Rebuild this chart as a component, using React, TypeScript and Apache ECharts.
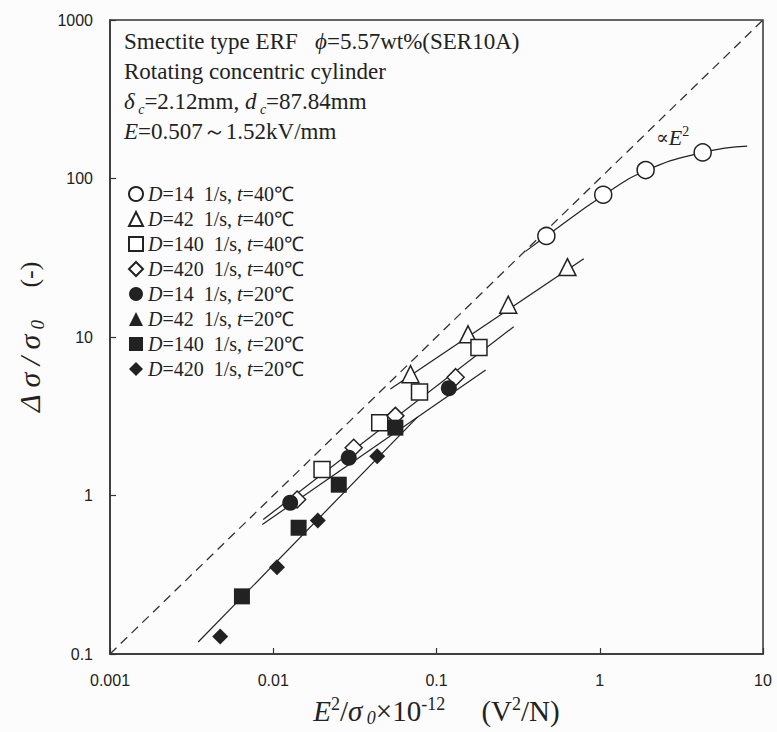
import React, { useEffect, useRef } from "react";
import * as echarts from "echarts";

// ---- Data ----
const xTickLabels = ["0.001", "0.01", "0.1", "1", "10"];
const yTickLabels = ["0.1", "1", "10", "100", "1000"];

const seriesNames = [
  "D=14 1/s, t=40℃",
  "D=42 1/s, t=40℃",
  "D=140 1/s, t=40℃",
  "D=420 1/s, t=40℃",
  "D=14 1/s, t=20℃",
  "D=42 1/s, t=20℃",
  "D=140 1/s, t=20℃",
  "D=420 1/s, t=20℃",
];
const shearRates = ["14", "42", "140", "420", "14", "42", "140", "420"];
const temps = ["40", "40", "40", "40", "20", "20", "20", "20"];

// D=14, 40C (open circle)
const c40X = [0.471, 1.05, 1.91, 4.27];
const c40Y = [43.4, 79, 113, 146];
// D=42, 40C (open triangle)
const t40X = [0.0693, 0.156, 0.275, 0.634];
const t40Y = [5.83, 10.4, 16.0, 27.6];
// D=140, 40C (open square)
const s40X = [0.0199, 0.0449, 0.0787, 0.182];
const s40Y = [1.46, 2.88, 4.49, 8.6];
// D=420, 40C (open diamond)
const d40X = [0.014, 0.0311, 0.056, 0.131];
const d40Y = [0.944, 2.0, 3.18, 5.58];
// D=14, 20C (filled circle)
const c20X = [0.0127, 0.029, 0.119];
const c20Y = [0.9, 1.73, 4.75];
// D=42, 20C (filled triangle) - no visible points
const t20X: number[] = [];
const t20Y: number[] = [];
// D=140, 20C (filled square)
const s20X = [0.00643, 0.0143, 0.0252, 0.056];
const s20Y = [0.231, 0.626, 1.17, 2.68];
// D=420, 20C (filled diamond)
const d20X = [0.00473, 0.01054, 0.01875, 0.0433];
const d20Y = [0.129, 0.352, 0.695, 1.77];

// fitted lines
const fitC40X = [0.351, 0.471, 1.05, 1.91, 4.27, 8.0];
const fitC40Y = [34.7, 43.4, 78, 112, 146, 160];
const fitT40X = [0.0522, 0.798];
const fitT40Y = [4.69, 31.2];
const fitS40X = [0.00868, 0.297];
const fitS40Y = [0.705, 11.6];
const fitD40X = [0.00857, 0.2];
const fitD40Y = [0.656, 6.2];
const fitLowX = [0.00347, 0.0764];
const fitLowY = [0.119, 3.12];
// proportional-to-E^2 reference line
const refX = [0.001, 10];
const refY = [0.1, 1000];

const zip = (xs: number[], ys: number[]) => xs.map((x, i) => [x, ys[i]]);

const INK = "#222";
const SERIF = "Liberation Serif";

const symbols = ["circle", "triangle", "rect", "diamond", "circle", "triangle", "rect", "diamond"];
const sizes = [17, 17, 16, 17, 16, 16, 16, 16];
const dataSets = [
  zip(c40X, c40Y),
  zip(t40X, t40Y),
  zip(s40X, s40Y),
  zip(d40X, d40Y),
  zip(c20X, c20Y),
  zip(t20X, t20Y),
  zip(s20X, s20Y),
  zip(d20X, d20Y),
];

const fitLine = (xs: number[], ys: number[], smooth = false) => ({
  type: "line",
  data: zip(xs, ys),
  symbol: "none",
  smooth,
  silent: true,
  z: 2,
  lineStyle: { color: INK, width: 1.2 },
});

function buildOption() {
  const scatter = seriesNames.map((name, i) => ({
    name,
    type: "scatter",
    data: dataSets[i],
    symbol: symbols[i],
    symbolSize: sizes[i],
    z: 5,
    itemStyle:
      i < 4
        ? { color: "#ffffff", borderColor: INK, borderWidth: 1.5, opacity: 1 }
        : { color: INK, borderColor: INK, borderWidth: 0, opacity: 1 },
  }));

  return {
    animation: false,
    backgroundColor: "#fcfcfc",
    grid: {
      left: 110,
      right: 14,
      top: 20,
      bottom: 78,
      show: true,
      borderColor: "#333",
      borderWidth: 1.5,
      backgroundColor: "transparent",
    },
    legend: {
      data: seriesNames,
      orient: "vertical",
      left: 128,
      top: 184,
      padding: 0,
      itemGap: 5,
      itemWidth: 14,
      itemHeight: 14,
      selectedMode: false,
      formatter: (name: string) => {
        const i = seriesNames.indexOf(name);
        return `{i|D}{n|=${shearRates[i]}  1/s, }{i|t}{n|=${temps[i]}℃}`;
      },
      textStyle: {
        color: INK,
        fontFamily: SERIF,
        fontSize: 20,
        lineHeight: 20,
        rich: {
          i: { fontFamily: SERIF, fontStyle: "italic", fontSize: 20, color: INK, lineHeight: 20 },
          n: { fontFamily: SERIF, fontSize: 20, color: INK, lineHeight: 20 },
        },
      },
    },
    xAxis: {
      type: "log",
      logBase: 10,
      min: 0.001,
      max: 10,
      name: "{i|E}{sup|2}{n|/}{i|σ}{sub| 0}{n|×10}{sup|-12}{n|     (V}{sup|2}{n|/N)}",
      nameLocation: "middle",
      nameGap: 41,
      nameTextStyle: {
        color: INK,
        fontFamily: SERIF,
        fontSize: 29,
        rich: {
          i: { fontFamily: SERIF, fontStyle: "italic", fontSize: 29, color: INK, lineHeight: 32 },
          n: { fontFamily: SERIF, fontSize: 29, color: INK, lineHeight: 32 },
          sup: { fontFamily: SERIF, fontSize: 18, color: INK, verticalAlign: "top", lineHeight: 16 },
          sub: { fontFamily: SERIF, fontStyle: "italic", fontSize: 18, color: INK, verticalAlign: "bottom", lineHeight: 12 },
        },
      },
      axisLine: { show: true, lineStyle: { color: "#333", width: 1.5 } },
      axisTick: { show: true, inside: true, length: 6, lineStyle: { color: "#333", width: 1.2 } },
      minorTick: { show: false },
      splitLine: { show: false },
      axisLabel: {
        color: INK,
        fontFamily: "Liberation Sans",
        fontSize: 16,
        margin: 18,
        formatter: (v: number) => xTickLabels[Math.round(Math.log10(v)) + 3] ?? "",
      },
    },
    yAxis: {
      type: "log",
      logBase: 10,
      min: 0.1,
      max: 1000,
      name: "{i|Δ σ / σ}{sub| 0}{n|     (-)}",
      nameLocation: "middle",
      nameGap: 50,
      nameTextStyle: {
        color: INK,
        fontFamily: SERIF,
        fontSize: 30,
        rich: {
          i: { fontFamily: SERIF, fontStyle: "italic", fontSize: 30, color: INK, lineHeight: 34 },
          n: { fontFamily: SERIF, fontSize: 26, color: INK, lineHeight: 34 },
          sub: { fontFamily: SERIF, fontStyle: "italic", fontSize: 19, color: INK, verticalAlign: "bottom", lineHeight: 12 },
        },
      },
      axisLine: { show: true, lineStyle: { color: "#333", width: 1.5 } },
      axisTick: { show: true, inside: true, length: 6, lineStyle: { color: "#333", width: 1.2 } },
      minorTick: { show: false },
      splitLine: { show: false },
      axisLabel: {
        color: INK,
        fontFamily: "Liberation Sans",
        fontSize: 16,
        margin: 17,
        formatter: (v: number) => yTickLabels[Math.round(Math.log10(v)) + 1] ?? "",
      },
    },
    graphic: [
      {
        type: "text",
        left: 124,
        top: 30,
        silent: true,
        style: {
          text:
            "{n|Smectite type ERF   }{i|ϕ}{n|=5.57wt%(SER10A)}\n" +
            "{n|Rotating concentric cylinder}\n" +
            "{i|δ}{sub| c}{n|=2.12mm, }{i|d}{sub| c}{n|=87.84mm}\n" +
            "{i|E}{n|=0.507～1.52kV/mm}",
          fill: INK,
          font: `23px "${SERIF}"`,
          rich: {
            n: { fontFamily: SERIF, fontSize: 23, fill: INK, lineHeight: 30 },
            i: { fontFamily: SERIF, fontStyle: "italic", fontSize: 23, fill: INK, lineHeight: 30 },
            sub: { fontFamily: SERIF, fontStyle: "italic", fontSize: 14, fill: INK, verticalAlign: "bottom", lineHeight: 12 },
          },
        },
      },
      {
        type: "text",
        left: 656,
        top: 124,
        silent: true,
        style: {
          text: "{n|∝}{i|E}{sup|2}",
          fill: INK,
          rich: {
            n: { fontFamily: "DejaVu Serif", fontSize: 19, fill: INK, lineHeight: 26 },
            i: { fontFamily: SERIF, fontStyle: "italic", fontSize: 22, fill: INK, lineHeight: 26 },
            sup: { fontFamily: SERIF, fontSize: 14, fill: INK, verticalAlign: "top", lineHeight: 12 },
          },
        },
      },
    ],
    series: [
      {
        type: "line",
        data: zip(refX, refY),
        symbol: "none",
        silent: true,
        z: 1,
        lineStyle: { color: "#333", width: 1.3, type: [9, 6] },
      },
      fitLine(fitC40X, fitC40Y, true),
      fitLine(fitT40X, fitT40Y),
      fitLine(fitS40X, fitS40Y),
      fitLine(fitD40X, fitD40Y),
      fitLine(fitLowX, fitLowY),
      ...scatter,
    ],
  };
}

export default function App() {
  const ref = useRef<HTMLDivElement>(null);
  useEffect(() => {
    if (!ref.current) return;
    const chart = echarts.init(ref.current, null, { renderer: "svg" });
    chart.setOption(buildOption() as any);
    return () => chart.dispose();
  }, []);
  return (
    <div
      ref={ref}
      style={{ position: "absolute", left: 0, top: 0, width: 777, height: 732 }}
    />
  );
}
